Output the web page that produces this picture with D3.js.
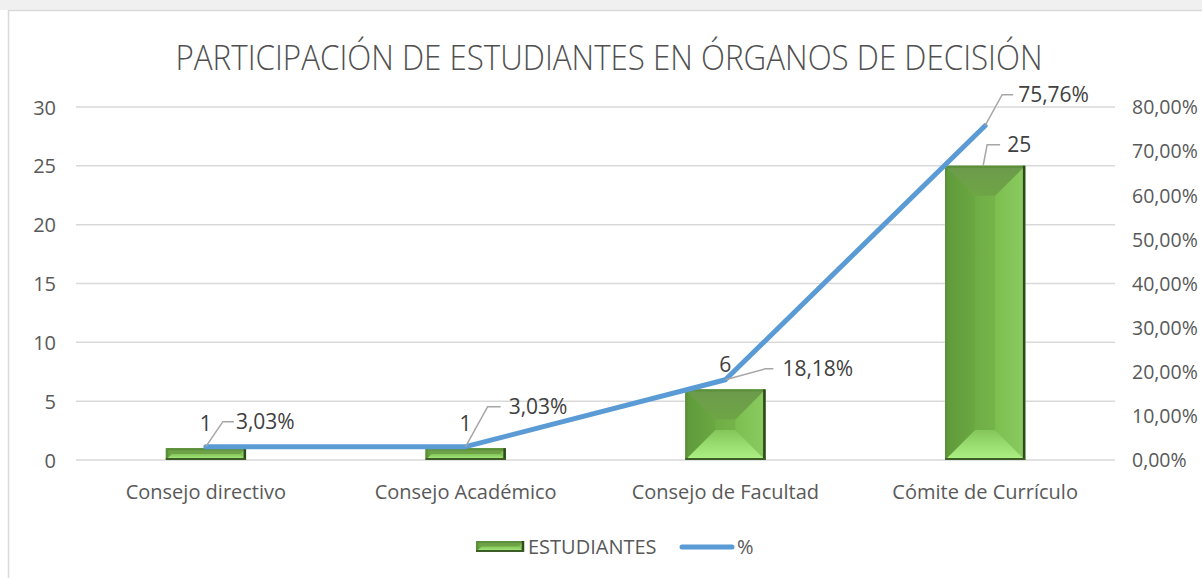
<!DOCTYPE html>
<html><head><meta charset="utf-8">
<script src="https://cdn.jsdelivr.net/npm/d3@7/dist/d3.min.js"></script>
<style>
html,body{margin:0;padding:0;background:#fff;}
svg{display:block;font-family:"Open Sans",sans-serif;}
</style></head>
<body>
<script>
const categories = ["Consejo directivo","Consejo Académico","Consejo de Facultad","Cómite de Currículo"];
const estudiantes = [1,1,6,25];
const porcentaje = [3.03,3.03,18.18,75.76];
const leftTicks = [0,5,10,15,20,25,30];
const rightTicks = [0,10,20,30,40,50,60,70,80];
const title = "PARTICIPACIÓN DE ESTUDIANTES EN ÓRGANOS DE DECISIÓN";
const seriesNames = ["ESTUDIANTES","%"];

// label placement (offsets relative to the data point, pixels)
const barLabelLeader = [null,null,null,[4,-21,13,24]];
const pctLabelLeader = [[17,-25,11,30],[22,-40,13,43],[40,-11,8,57],[17,-31,11,33]];

const W=1202,H=578;
const svg=d3.select("body").append("svg").attr("width",W).attr("height",H);

svg.append("rect").attr("x",0).attr("y",0).attr("width",W).attr("height",10).attr("fill","#f0f0f0");
svg.append("rect").attr("x",8.5).attr("y",10.5).attr("width",W+10).attr("height",H+10)
  .attr("fill","#fff").attr("stroke","#d9d9d9").attr("stroke-width",1.5);

const x0=76,x1=1115,yTop=107,yBot=460;
const x=d3.scaleBand().domain(categories).range([x0,x1]);
const yL=d3.scaleLinear().domain([0,30]).range([yBot,yTop]);
const yR=d3.scaleLinear().domain([0,80]).range([yBot,yTop]);

svg.append("text").attr("x",609).attr("y",70).attr("text-anchor","middle")
  .attr("font-size",35).attr("fill","#505050").attr("font-weight",300)
  .attr("textLength",867).attr("lengthAdjust","spacingAndGlyphs").text(title);

svg.append("g").selectAll("line").data(leftTicks).join("line")
  .attr("x1",x0).attr("x2",x1).attr("y1",d=>yL(d)).attr("y2",d=>yL(d))
  .attr("stroke","#d9d9d9").attr("stroke-width",1.5);

const axL=d3.axisLeft(yL).tickValues(leftTicks).tickSize(0).tickPadding(0);
const gL=svg.append("g").attr("transform",`translate(56,0)`).call(axL);
gL.select(".domain").remove();
gL.selectAll("text").attr("font-size",20).attr("fill","#595959").attr("font-family","Open Sans").attr("dy","0.35em");

const fmtPct=d=>d.toFixed(2).replace(".",",")+"%";
const axR=d3.axisRight(yR).tickValues(rightTicks).tickSize(0).tickPadding(0).tickFormat(fmtPct);
const gR=svg.append("g").attr("transform",`translate(1132,0)`).call(axR);
gR.select(".domain").remove();
gR.selectAll("text").attr("font-size",19.5).attr("fill","#595959").attr("font-family","Open Sans").attr("dy","0.35em");

const axB=d3.axisBottom(x).tickSize(0).tickPadding(0);
const gB=svg.append("g").attr("transform",`translate(0,${yBot+39})`).call(axB);
gB.select(".domain").remove();
gB.selectAll("text").attr("font-size",20).attr("fill","#595959").attr("font-family","Open Sans").attr("dy","0");

const defs=svg.append("defs");
function lg(id,stops,x2,y2){
  const g=defs.append("linearGradient").attr("id",id).attr("x1",0).attr("y1",0).attr("x2",x2).attr("y2",y2);
  stops.forEach(s=>g.append("stop").attr("offset",s[0]).attr("stop-color",s[1]));
}
lg("gMain",[[0,"#66a23f"],[0.5,"#72b048"],[1,"#7dbf52"]],1,0);
lg("gTop",[[0,"#6c9a4c"],[1,"#6fa545"]],0,1);
lg("gBot",[[0,"#84c659"],[1,"#aef286"]],0,1);
lg("gLeft",[[0,"#5f9a3a"],[1,"#6aa842"]],1,0);
lg("gRight",[[0,"#7cbf50"],[1,"#8bcb60"]],1,0);

const bw=80;
function drawBar(g,bx,by,w,h){
  const b=Math.min(30,w/2,h/2);
  const X0=bx,X1=bx+w,Y0=by,Y1=by+h;
  g.append("rect").attr("x",X0).attr("y",Y0).attr("width",w).attr("height",h).attr("fill","url(#gMain)");
  g.append("polygon").attr("points",[[X0,Y0],[X0+b,Y0+b],[X0+b,Y1-b],[X0,Y1]].join(" ")).attr("fill","url(#gLeft)");
  g.append("polygon").attr("points",[[X1,Y0],[X1-b,Y0+b],[X1-b,Y1-b],[X1,Y1]].join(" ")).attr("fill","url(#gRight)");
  g.append("polygon").attr("points",[[X0,Y0],[X1,Y0],[X1-b,Y0+b],[X0+b,Y0+b]].join(" ")).attr("fill","url(#gTop)");
  g.append("polygon").attr("points",[[X0,Y1],[X1,Y1],[X1-b,Y1-b],[X0+b,Y1-b]].join(" ")).attr("fill","url(#gBot)");
  g.append("rect").attr("x",X0+1).attr("y",Y0+1).attr("width",w-2).attr("height",h-2).attr("fill","none").attr("stroke","#5c8f3a").attr("stroke-width",2);
  g.append("line").attr("x1",X1-1).attr("x2",X1-1).attr("y1",Y0).attr("y2",Y1).attr("stroke","#2f4a1d").attr("stroke-width",2.5);
  g.append("line").attr("x1",X0).attr("x2",X1).attr("y1",Y1-1).attr("y2",Y1-1).attr("stroke","#3c5e26").attr("stroke-width",2);
}
const barsG=svg.append("g");
categories.forEach((c,i)=>{
  const cx=x(c)+x.bandwidth()/2;
  const top=yL(estudiantes[i]);
  drawBar(barsG.append("g"),cx-bw/2,top,bw,yBot-top);
});

const pts=categories.map((c,i)=>[x(c)+x.bandwidth()/2,yR(porcentaje[i])]);
svg.append("path").attr("d",d3.line()(pts)).attr("fill","none")
  .attr("stroke","#5b9bd5").attr("stroke-width",5).attr("stroke-linecap","round").attr("stroke-linejoin","round");

const lab=svg.append("g").attr("font-size",21).attr("fill","#404040");
function leader(px,py,o){
  const ex=px+o[0],ey=py+o[1];
  lab.append("path").attr("d",`M${px},${py}L${ex},${ey}L${ex+o[2]},${ey}`)
    .attr("fill","none").attr("stroke","#a6a6a6").attr("stroke-width",1.5);
  return [px+o[3],ey];
}
categories.forEach((c,i)=>{
  const cx=x(c)+x.bandwidth()/2;
  const top=yL(estudiantes[i]);
  const o=barLabelLeader[i];
  if(o){
    const p=leader(cx-2,top,o);
    lab.append("text").attr("x",p[0]).attr("y",p[1]).attr("dy","0.35em").text(estudiantes[i]);
  } else {
    lab.append("text").attr("x",cx).attr("y",top-17).attr("text-anchor","middle").text(estudiantes[i]);
  }
  const po=pctLabelLeader[i];
  const p2=leader(pts[i][0],pts[i][1],po);
  lab.append("text").attr("x",p2[0]).attr("y",p2[1]).attr("dy","0.35em").text(fmtPct(porcentaje[i]));
});

const lgG=svg.append("g");
drawBar(lgG,476,541,48,11);
lgG.append("text").attr("x",528).attr("y",554).attr("font-size",20).attr("fill","#595959").text(seriesNames[0]);
lgG.append("line").attr("x1",682).attr("x2",732).attr("y1",547).attr("y2",547).attr("stroke","#5b9bd5").attr("stroke-width",5).attr("stroke-linecap","round");
lgG.append("text").attr("x",737).attr("y",554).attr("font-size",20).attr("fill","#595959").text(seriesNames[1]);
</script>
</body></html>
